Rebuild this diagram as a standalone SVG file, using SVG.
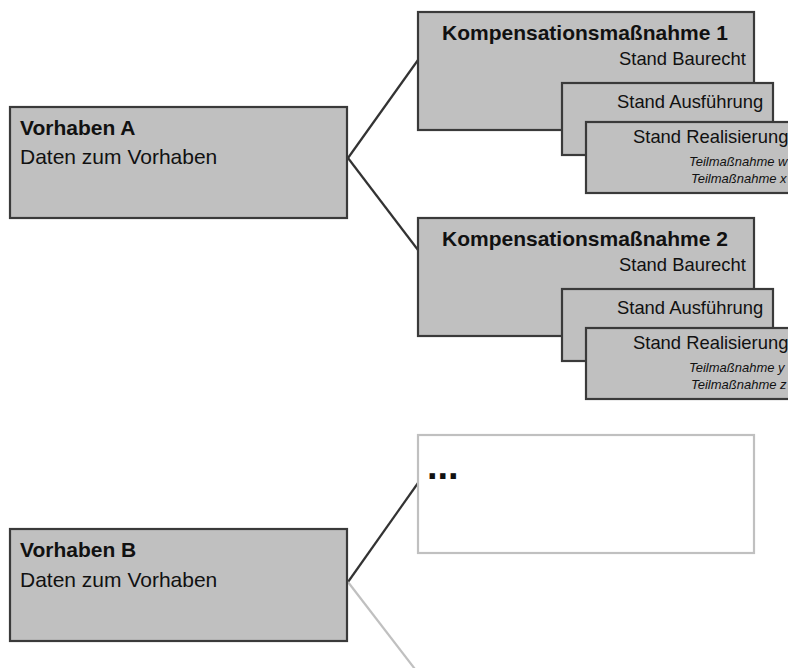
<svg xmlns="http://www.w3.org/2000/svg" width="788" height="668" viewBox="0 0 788 668">
<style>
.box{fill:#c0c0c0;stroke:#3a3a3a;stroke-width:2.2}
.ghost{fill:#ffffff;stroke:#c0c0c0;stroke-width:2.2}
.t{font-family:"Liberation Sans",Arial,sans-serif;fill:#111}
.b{font-weight:bold;font-size:21px}
.r21{font-size:21px}
.s{font-size:18.4px}
.i{font-style:italic;font-size:13px}
.c{fill:none;stroke:#333;stroke-width:2.2}
.cl{fill:none;stroke:#c0c0c0;stroke-width:2.2}
</style>
<rect width="788" height="668" fill="#ffffff"/>
<g id="connectors">
<line class="c" x1="348" y1="158" x2="418" y2="60"/>
<line class="c" x1="348" y1="158" x2="418" y2="250"/>
<line class="c" x1="348" y1="582" x2="418" y2="483"/>
<line class="cl" x1="348" y1="582" x2="418" y2="673"/>
</g>
<g id="vorhabenA">
<rect class="box" x="10" y="107" width="337" height="111"/>
<text class="t b" x="20" y="135">Vorhaben A</text>
<text class="t r21" x="20" y="164">Daten zum Vorhaben</text>
</g>
<g id="vorhabenB">
<rect class="box" x="10" y="529" width="337" height="112"/>
<text class="t b" x="20" y="557">Vorhaben B</text>
<text class="t r21" x="20" y="587">Daten zum Vorhaben</text>
</g>
<g id="kompensation1">
<rect class="box" x="418" y="12" width="336" height="118"/>
<text class="t b" x="442" y="40">Kompensationsmaßnahme 1</text>
<text class="t s" x="619" y="65">Stand Baurecht</text>
</g>
<g id="ausfuehrung1">
<rect class="box" x="562" y="83" width="211" height="72"/>
<text class="t s" x="617" y="108">Stand Ausführung</text>
</g>
<g id="realisierung1">
<rect class="box" x="586" y="122" width="220" height="71"/>
<text class="t s" x="633" y="143">Stand Realisierung</text>
<text class="t i" x="689" y="166">Teilmaßnahme w</text>
<text class="t i" x="691" y="183">Teilmaßnahme x</text>
</g>
<g id="kompensation2">
<rect class="box" x="418" y="218" width="336" height="118"/>
<text class="t b" x="442" y="246">Kompensationsmaßnahme 2</text>
<text class="t s" x="619" y="271">Stand Baurecht</text>
</g>
<g id="ausfuehrung2">
<rect class="box" x="562" y="289" width="211" height="72"/>
<text class="t s" x="617" y="314">Stand Ausführung</text>
</g>
<g id="realisierung2">
<rect class="box" x="586" y="328" width="220" height="71"/>
<text class="t s" x="633" y="349">Stand Realisierung</text>
<text class="t i" x="689" y="372">Teilmaßnahme y</text>
<text class="t i" x="691" y="389">Teilmaßnahme z</text>
</g>
<g id="weitere">
<rect class="ghost" x="418" y="435" width="336" height="118"/>
<text class="t" x="427" y="479" font-size="38" font-weight="bold">...</text>
</g>
</svg>
